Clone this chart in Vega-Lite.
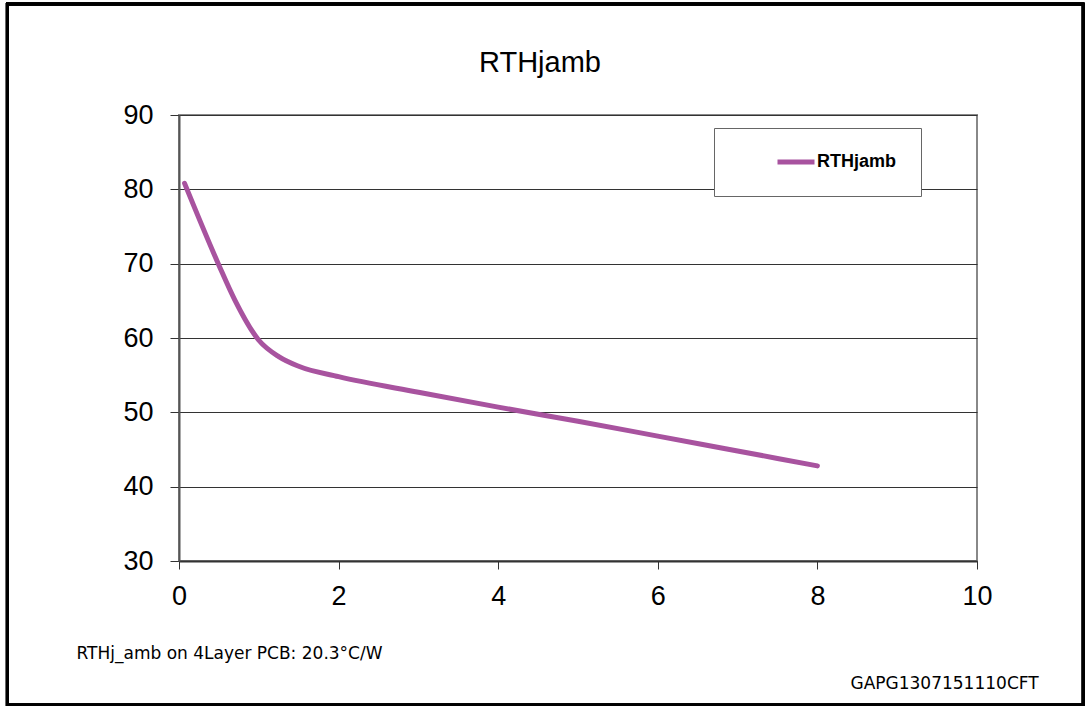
{
  "$schema": "https://vega.github.io/schema/vega-lite/v6.json",
  "width": 798,
  "height": 446,
  "autosize": {"type": "none"},
  "padding": {"left": 179, "top": 115, "right": 108, "bottom": 145},
  "background": "white",
  "title": {
    "text": "RTHjamb",
    "font": "Liberation Sans",
    "fontSize": 29,
    "fontWeight": "normal",
    "color": "#000000",
    "anchor": "middle",
    "frame": "group",
    "baseline": "alphabetic",
    "dx": -38,
    "dy": 98,
    "offset": 0
  },
  "data": {
    "values": [
      {"P": 0.07, "R": 80.8, "series": "RTHjamb"},
      {"P": 0.5, "R": 69.8, "series": "RTHjamb"},
      {"P": 0.7, "R": 65.1, "series": "RTHjamb"},
      {"P": 1.0, "R": 59.7, "series": "RTHjamb"},
      {"P": 1.25, "R": 57.5, "series": "RTHjamb"},
      {"P": 1.5, "R": 56.2, "series": "RTHjamb"},
      {"P": 2, "R": 54.8, "series": "RTHjamb"},
      {"P": 3, "R": 52.7, "series": "RTHjamb"},
      {"P": 4, "R": 50.7, "series": "RTHjamb"},
      {"P": 5, "R": 48.8, "series": "RTHjamb"},
      {"P": 6, "R": 46.8, "series": "RTHjamb"},
      {"P": 7, "R": 44.8, "series": "RTHjamb"},
      {"P": 8, "R": 42.8, "series": "RTHjamb"}
    ]
  },
  "layer": [
    {
      "mark": {"type": "rect", "clip": false, "fill": null, "stroke": "#000000", "strokeWidth": 2.5},
      "encoding": {
        "x": {"datum": -2.153, "type": "quantitative", "scale": {"domain": [0, 10], "nice": false}},
        "x2": {"datum": 11.33},
        "y": {"datum": 104.93, "type": "quantitative", "scale": {"domain": [30, 90], "nice": false}, "axis": null},
        "y2": {"datum": 10.63}
      }
    },
    {
      "mark": {"type": "line", "interpolate": "monotone", "strokeWidth": 5, "strokeCap": "round"},
      "encoding": {
        "x": {
          "field": "P",
          "type": "quantitative",
          "scale": {"domain": [0, 10], "nice": false},
          "axis": {
            "values": [0, 2, 4, 6, 8, 10],
            "format": "d",
            "labelFlush": false,
            "grid": false,
            "title": "RTHj_amb on 4Layer PCB: 20.3°C/W",
            "titleFont": "DejaVu Sans",
            "titleFontSize": 17,
            "titleFontWeight": "normal",
            "titleColor": "#000000",
            "titleAnchor": "start",
            "titleAlign": "left",
            "titleBaseline": "alphabetic",
            "titleX": -103,
            "titleY": 97,
            "labelFont": "Liberation Sans",
            "labelFontSize": 27,
            "labelColor": "#000000",
            "labelPadding": 14,
            "tickSize": 8,
            "tickColor": "#333333",
            "domainColor": "#333333",
            "domainWidth": 2
          }
        },
        "y": {
          "field": "R",
          "type": "quantitative",
          "scale": {"domain": [30, 90], "nice": false},
          "axis": {
            "orient": "left",
            "values": [30, 40, 50, 60, 70, 80, 90],
            "format": "d",
            "labelFlush": false,
            "title": null,
            "grid": true,
            "gridColor": "#333333",
            "gridWidth": 1.2,
            "labelFont": "Liberation Sans",
            "labelFontSize": 27,
            "labelColor": "#000000",
            "labelPadding": 17,
            "tickSize": 9,
            "tickColor": "#333333",
            "domainColor": "#555555",
            "domainWidth": 2
          }
        },
        "color": {
          "field": "series",
          "type": "nominal",
          "scale": {"range": ["#A8539F"]},
          "legend": {
            "title": null,
            "orient": "none",
            "legendX": 535,
            "legendY": 13,
            "strokeColor": "#666666",
            "fillColor": "#ffffff",
            "padding": 24,
            "clipHeight": 20,
            "symbolType": "stroke",
            "symbolSize": 38416,
            "symbolStrokeWidth": 5,
            "symbolDash": [37, 1000],
            "symbolDashOffset": -37,
            "labelOffset": -122,
            "labelFont": "Liberation Sans",
            "labelFontSize": 18,
            "labelFontWeight": "bold",
            "labelColor": "#000000"
          }
        }
      }
    },
    {
      "mark": {"type": "point", "opacity": 0},
      "encoding": {
        "x": {"field": "P", "type": "quantitative", "scale": {"domain": [0, 10], "nice": false}},
        "y": {
          "field": "R",
          "type": "quantitative",
          "scale": {"domain": [30, 90], "nice": false},
          "axis": {
            "orient": "right",
            "labels": false,
            "ticks": false,
            "domain": false,
            "grid": false,
            "title": "GAPG1307151110CFT",
            "titleAngle": 0,
            "titleFont": "DejaVu Sans",
            "titleFontSize": 17,
            "titleFontWeight": "normal",
            "titleColor": "#000000",
            "titleAlign": "left",
            "titleBaseline": "alphabetic",
            "titleX": -127,
            "titleY": 573
          }
        }
      }
    }
  ],
  "resolve": {"scale": {"y": "independent"}},
  "config": {
    "view": {"stroke": "#888888", "strokeWidth": 2}
  }
}
